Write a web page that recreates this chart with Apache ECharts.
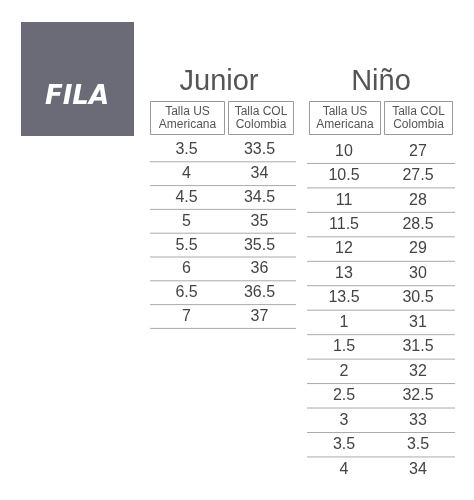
<!DOCTYPE html>
<html><head><meta charset="utf-8">
<script src="https://cdn.jsdelivr.net/npm/echarts@6/dist/echarts.min.js"></script>
<style>html,body{margin:0;padding:0;background:#fff}#c{width:474px;height:500px}</style>
</head><body><div id="c"></div>
<script>
const brand = 'FILA';
const titles = ['Junior', 'Niño'];
const headers = [['Talla US\nAmericana', 'Talla COL\nColombia'], ['Talla US\nAmericana', 'Talla COL\nColombia']];
const juniorUS = ['3.5','4','4.5','5','5.5','6','6.5','7'];
const juniorCOL = ['33.5','34','34.5','35','35.5','36','36.5','37'];
const ninoUS = ['10','10.5','11','11.5','12','13','13.5','1','1.5','2','2.5','3','3.5','4'];
const ninoCOL = ['27','27.5','28','28.5','29','30','30.5','31','31.5','32','32.5','33','3.5','34'];

function rows(us, col){
  const d=[];
  us.forEach((v,i)=>{d.push([0,i,v]);d.push([1,i,col[i]]);});
  return d;
}
function makeRender(n, lastLine){
  return function(params, api){
    const x=api.value(0), y=api.value(1);
    const p=api.coord([x,y]); const s=api.size([1,1]);
    const ch=[{type:'text',style:{text:String(api.value(2)),x:p[0],y:p[1],align:'center',verticalAlign:'middle',font:'16px "Liberation Sans", Arial, sans-serif',fill:'#444'}}];
    if(x===0 && (y<n-1 || lastLine)){
      ch.push({type:'line',shape:{x1:p[0]-s[0]/2,y1:p[1]+s[1]/2,x2:p[0]+s[0]*1.5,y2:p[1]+s[1]/2},style:{stroke:'#aaa',lineWidth:1}});
    }
    return {type:'group',children:ch};
  };
}
const hb = (x,y,w,h,t)=>({type:'group',children:[
  {type:'rect',shape:{x:x,y:y,width:w,height:h},style:{fill:'#fff',stroke:'#999',lineWidth:1}},
  {type:'text',style:{text:t,x:x+w/2,y:y+h/2,align:'center',verticalAlign:'middle',font:'12px "Liberation Sans", Arial, sans-serif',fill:'#555',lineHeight:13}}
]});
const chart=echarts.init(document.getElementById('c'));
chart.setOption({
  animation:false,
  grid:[{left:150,top:138,width:146,height:190.4},{left:307,top:139,width:148,height:342.4}],
  xAxis:[{type:'category',gridIndex:0,data:['US','COL'],show:false},{type:'category',gridIndex:1,data:['US','COL'],show:false}],
  yAxis:[{type:'category',gridIndex:0,inverse:true,data:juniorUS.map((_,i)=>i),show:false},{type:'category',gridIndex:1,inverse:true,data:ninoUS.map((_,i)=>i),show:false}],
  series:[
    {type:'custom',xAxisIndex:0,yAxisIndex:0,data:rows(juniorUS,juniorCOL),renderItem:makeRender(juniorUS.length,true)},
    {type:'custom',xAxisIndex:1,yAxisIndex:1,data:rows(ninoUS,ninoCOL),renderItem:makeRender(ninoUS.length,false)}
  ],
  graphic:[
    {type:'rect',shape:{x:21,y:22,width:113,height:114},style:{fill:'#6b6b78'}},
    {type:'text',style:{text:brand,x:77,y:97,align:'center',verticalAlign:'middle',font:'italic bold 26px "DejaVu Sans", sans-serif',fill:'#fff'}},
    {type:'text',style:{text:titles[0],x:219,y:82,align:'center',verticalAlign:'middle',font:'29px "Liberation Sans", Arial, sans-serif',fill:'#555'}},
    {type:'text',style:{text:titles[1],x:381,y:82,align:'center',verticalAlign:'middle',font:'29px "Liberation Sans", Arial, sans-serif',fill:'#555'}},
    hb(150.5,101.5,74,33,headers[0][0]), hb(228.5,101.5,65,33,headers[0][1]),
    hb(309.5,101.5,71,33,headers[1][0]), hb(384.5,101.5,68,33,headers[1][1])
  ]
});
</script></body></html>
